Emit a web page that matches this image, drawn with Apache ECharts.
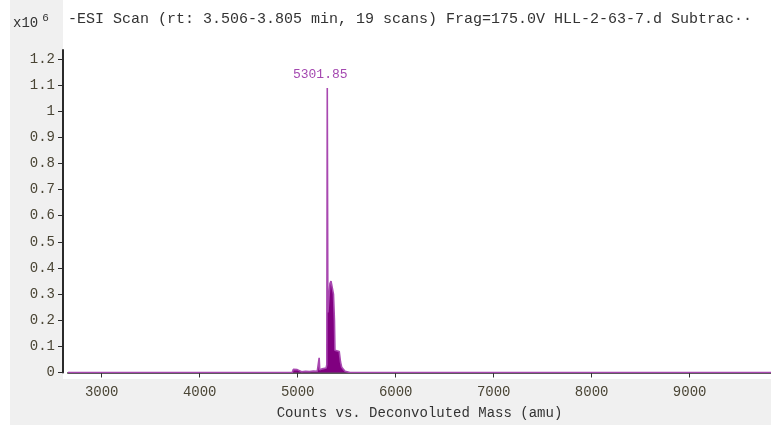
<!DOCTYPE html>
<html>
<head>
<meta charset="utf-8">
<script src="https://cdn.jsdelivr.net/npm/echarts@6/dist/echarts.min.js"></script>
<style>
  html, body { margin: 0; padding: 0; background: #ffffff; }
  #chart { width: 771px; height: 425px; }
</style>
</head>
<body>
<div id="chart"></div>
<script>
// Deconvoluted mass spectrum (intensity in units of 1e6 counts)
const masses = [
  2656, 3000, 3500, 4000, 4300, 4320, 4335, 4700, 4900, 4945,
  4955, 4975, 4995, 5005, 5040, 5080, 5120, 5160, 5200, 5214,
  5219, 5222, 5225, 5230, 5250, 5270, 5290, 5297, 5301.85, 5308,
  5322, 5329, 5340, 5355, 5365, 5375, 5380, 5400, 5424, 5437,
  5449, 5483, 5534, 6000, 7000, 8000, 9000, 9830
];
const intensities = [
  0, 0, 0, 0, 0, 0.004, 0, 0, 0, 0,
  0.012, 0.01, 0.011, 0.004, 0.003, 0.005, 0.004, 0.006, 0.005, 0.008,
  0.056, 0.055, 0.01, 0.015, 0.014, 0.016, 0.017, 0.03, 1.089, 0.23,
  0.23, 0.34, 0.35, 0.32, 0.30, 0.20, 0.085, 0.085, 0.08, 0.04,
  0.02, 0.005, 0, 0, 0, 0, 0, 0
];
const peakMass = 5301.85;
const peakIntensity = intensities[masses.indexOf(peakMass)];

const xTicks = [3000, 4000, 5000, 6000, 7000, 8000, 9000];
const yTicks = [0, 0.1, 0.2, 0.3, 0.4, 0.5, 0.6, 0.7, 0.8, 0.9, 1, 1.1, 1.2];

const titleText = '-ESI Scan (rt: 3.506-3.805 min, 19 scans) Frag=175.0V HLL-2-63-7.d Subtrac\u00b7\u00b7';
const xName = 'Counts vs. Deconvoluted Mass (amu)';

const mono = '"Liberation Mono", "DejaVu Sans Mono", monospace';
const labelColor = '#4a4535';

const chart = echarts.init(document.getElementById('chart'), null, { renderer: 'canvas' });

chart.setOption({
  animation: false,
  backgroundColor: '#ffffff',
  graphic: [
    { type: 'rect', z: -10, shape: { x: 10, y: 0, width: 53, height: 425 }, style: { fill: '#f0f0f0' } },
    { type: 'rect', z: -10, shape: { x: 10, y: 379, width: 761, height: 46 }, style: { fill: '#f0f0f0' } },
    {
      type: 'text', left: 13, top: 13,
      style: {
        text: '{a|x10}{b|6}',
        rich: {
          a: { fontFamily: mono, fontSize: 14, fill: '#333', verticalAlign: 'bottom' },
          b: { fontFamily: mono, fontSize: 11, fill: '#333', padding: [0, 0, 6, 4] }
        }
      }
    },
    {
      type: 'text', left: 68, top: 12,
      style: { text: titleText, fontFamily: mono, fontSize: 15, fill: '#333' }
    }
  ],
  grid: { left: 68, right: 0, top: 50, bottom: 52.5, containLabel: false },
  xAxis: {
    type: 'value',
    min: 2656,
    max: 9830,
    offset: 6.5,
    name: xName,
    nameLocation: 'middle',
    nameGap: 27,
    nameTextStyle: { fontFamily: mono, fontSize: 14, color: '#333' },
    splitLine: { show: false },
    axisLine: { show: true, lineStyle: { color: '#5a5a5a', width: 2 } },
    axisTick: { show: true, length: 5, lineStyle: { color: '#333' }, customValues: xTicks },
    axisLabel: {
      customValues: xTicks,
      margin: 6,
      fontFamily: mono,
      fontSize: 14,
      color: labelColor,
      formatter: v => String(v)
    }
  },
  yAxis: {
    type: 'value',
    min: 0,
    max: 1.2344,
    offset: 5,
    splitLine: { show: false },
    axisLine: { show: true, lineStyle: { color: '#2a2a2a', width: 2 } },
    axisTick: { show: true, length: 5, lineStyle: { color: '#2a2a2a' }, customValues: yTicks },
    axisLabel: {
      customValues: yTicks,
      margin: 8,
      fontFamily: mono,
      fontSize: 14,
      color: labelColor,
      formatter: v => String(Math.round(v * 10) / 10)
    }
  },
  series: [{
    type: 'line',
    data: masses.map((m, i) => [m, intensities[i]]),
    showSymbol: false,
    symbol: 'none',
    sampling: 'none',
    lineStyle: { color: '#a848b0', width: 1.6 },
    areaStyle: { color: '#800080', opacity: 1 },
    z: 3,
    markPoint: {
      symbol: 'circle',
      symbolSize: 0,
      silent: true,
      data: [{ coord: [peakMass, peakIntensity], value: peakMass }],
      label: {
        show: true,
        position: 'top',
        distance: 7,
        offset: [-7, 0],
        formatter: () => peakMass.toFixed(2),
        color: '#a448b0',
        fontFamily: mono,
        fontSize: 13
      }
    }
  }]
});
</script>
</body>
</html>
